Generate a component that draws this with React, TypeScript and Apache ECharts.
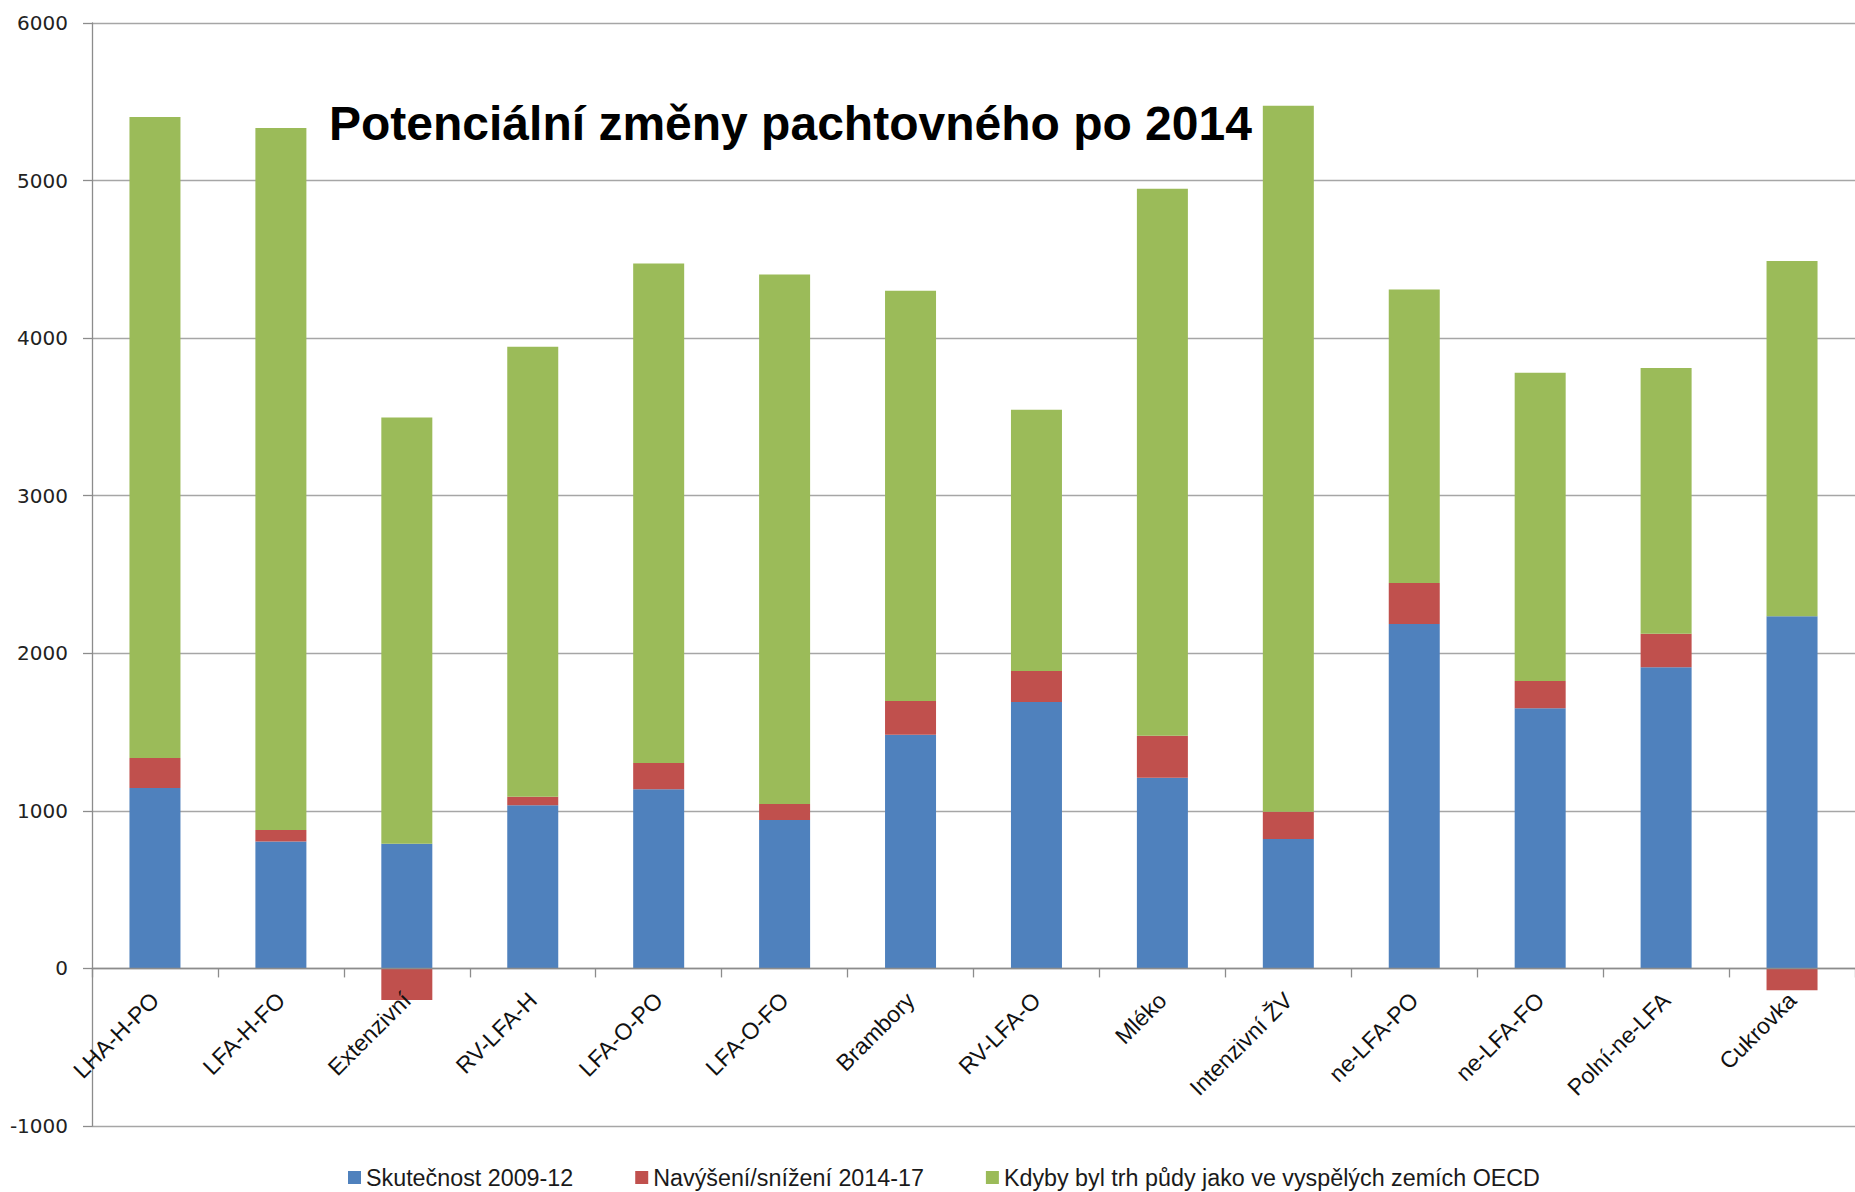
import React, { useEffect, useRef } from "react";
import * as echarts from "echarts";

const categories = [
  "LHA-H-PO",
  "LFA-H-FO",
  "Extenzivní",
  "RV-LFA-H",
  "LFA-O-PO",
  "LFA-O-FO",
  "Brambory",
  "RV-LFA-O",
  "Mléko",
  "Intenzivní ŽV",
  "ne-LFA-PO",
  "ne-LFA-FO",
  "Polní-ne-LFA",
  "Cukrovka",
];

const skutecnost = [1145, 806, 791, 1035, 1137, 942, 1483, 1691, 1210, 821, 2186, 1651, 1911, 2235];
const navyseni = [190, 72, -200, 55, 166, 101, 214, 197, 267, 173, 260, 173, 213, -138];
const kdyby = [4068, 4455, 2705, 2855, 3171, 3361, 2603, 1657, 3471, 4481, 1863, 1956, 1687, 2254];

const seriesNames = [
  "Skutečnost 2009-12",
  "Navýšení/snížení 2014-17",
  "Kdyby byl trh půdy jako ve vyspělých zemích OECD",
];

const yTicks = { min: -1000, max: 6000, interval: 1000 };

const title = "Potenciální změny pachtovného po 2014";

export default function App() {
  const ref = useRef<HTMLDivElement>(null);

  useEffect(() => {
    if (!ref.current) return;
    const chart = echarts.init(ref.current, undefined, { renderer: "svg" });
    const barW = 51;
    const gridTop = 23;
    const gridBottom = 66;
    const plotH = 1192 - gridTop - gridBottom;
    // distance from bottom of plot (min) to zero, via the axis scale
    const zeroOffset = (plotH * (0 - yTicks.min)) / (yTicks.max - yTicks.min);
    chart.setOption({
      animation: false,
      backgroundColor: "#ffffff",
      title: {
        text: title,
        left: 324,
        top: 94,
        textStyle: {
          fontFamily: "Liberation Sans, Arial, sans-serif",
          fontWeight: "bold",
          fontSize: 48,
          color: "#000000",
        },
      },
      legend: {
        left: 343,
        top: 1161,
        itemWidth: 13,
        itemHeight: 13,
        itemGap: 62,
        icon: "rect",
        textStyle: {
          fontFamily: "Liberation Sans, Arial, sans-serif",
          fontSize: 23.3,
          color: "#1a1a1a",
        },
        data: seriesNames,
      },
      grid: {
        left: 92,
        right: 0,
        top: gridTop,
        bottom: gridBottom,
        containLabel: false,
        outerBoundsMode: "none",
      },
      xAxis: {
        type: "category",
        data: categories,
        position: "bottom",
        offset: -zeroOffset,
        z: 5,
        axisLine: { onZero: false, lineStyle: { color: "#8c8c8c", width: 1.3 } },
        axisTick: { show: true, length: 9, interval: 0, lineStyle: { color: "#8c8c8c", width: 1.3 } },
        axisLabel: {
          interval: 0,
          rotate: 45,
          margin: 28,
          fontFamily: "Liberation Sans, Arial, sans-serif",
          fontSize: 23,
          color: "#111111",
        },
      },
      yAxis: {
        type: "value",
        min: yTicks.min,
        max: yTicks.max,
        interval: yTicks.interval,
        axisLine: { show: true, onZero: false, lineStyle: { color: "#8c8c8c", width: 1.3 } },
        axisTick: { show: true, length: 9, lineStyle: { color: "#8c8c8c", width: 1.3 } },
        splitLine: { show: true, lineStyle: { color: "#a6a6a6", width: 1.3 } },
        axisLabel: {
          margin: 24,
          fontFamily: "DejaVu Sans, sans-serif",
          fontSize: 20,
          color: "#222222",
          formatter: (v: number) => String(v),
        },
      },
      series: [
        {
          name: seriesNames[0],
          type: "bar",
          stack: "total",
          barWidth: barW,
          data: skutecnost,
          itemStyle: { color: "#4F81BD" },
        },
        {
          name: seriesNames[1],
          type: "bar",
          stack: "total",
          barWidth: barW,
          data: navyseni,
          itemStyle: { color: "#C0504D" },
        },
        {
          name: seriesNames[2],
          type: "bar",
          stack: "total",
          barWidth: barW,
          data: kdyby,
          itemStyle: { color: "#9BBB59" },
        },
      ],
    });
    return () => chart.dispose();
  }, []);

  return (
    <div
      ref={ref}
      style={{ position: "fixed", left: 0, top: 0, width: 1855, height: 1192 }}
    />
  );
}
